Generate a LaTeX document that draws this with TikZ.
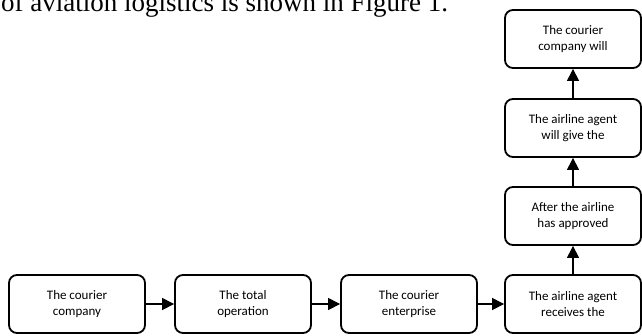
\documentclass[tikz,border=0pt]{standalone}
\usepackage{fontspec}
\setmainfont{Liberation Serif}
\newfontfamily\boxfont{Carlito}
\usetikzlibrary{arrows.meta}
\begin{document}
\begin{tikzpicture}[x=1pt,y=-1pt,
  stepbox/.style={draw, line width=1.8pt, rounded corners=8pt,
    minimum width=136pt, minimum height=58pt, align=center,
    font=\boxfont\fontsize{13}{15.5}\selectfont, inner sep=2pt},
  flow/.style={line width=1.1pt, -{Triangle[length=12pt,width=12pt]}}
]
\useasboundingbox (0,0) rectangle (642,335);
% running text of the page above the figure, cut by the top edge
\begin{scope}
\clip (0,0) rectangle (642,335);
\node[anchor=base west, inner sep=0pt, font=\fontsize{27}{30}\selectfont] (caption) at (1,11) {of aviation logistics is shown in Figure 1.};
\end{scope}
% bottom row
\node[stepbox] (b1) at (77,304) {The courier\\company};
\node[stepbox] (b2) at (243,304) {The total\\operation};
\node[stepbox] (b3) at (409,304) {The courier\\enterprise};
\node[stepbox] (b4) at (573,304) {The airline agent\\receives the};
% right column
\node[stepbox] (r3) at (573,216) {After the airline\\has approved};
\node[stepbox] (r2) at (573,128) {The airline agent\\will give the};
\node[stepbox] (r1) at (573,39) {The courier\\company will};
\draw[flow] (b1) -- (b2);
\draw[flow] (b2) -- (b3);
\draw[flow] (b3) -- (b4);
\draw[flow] (b4) -- (r3);
\draw[flow] (r3) -- (r2);
\draw[flow] (r2) -- (r1);
\end{tikzpicture}
\end{document}
